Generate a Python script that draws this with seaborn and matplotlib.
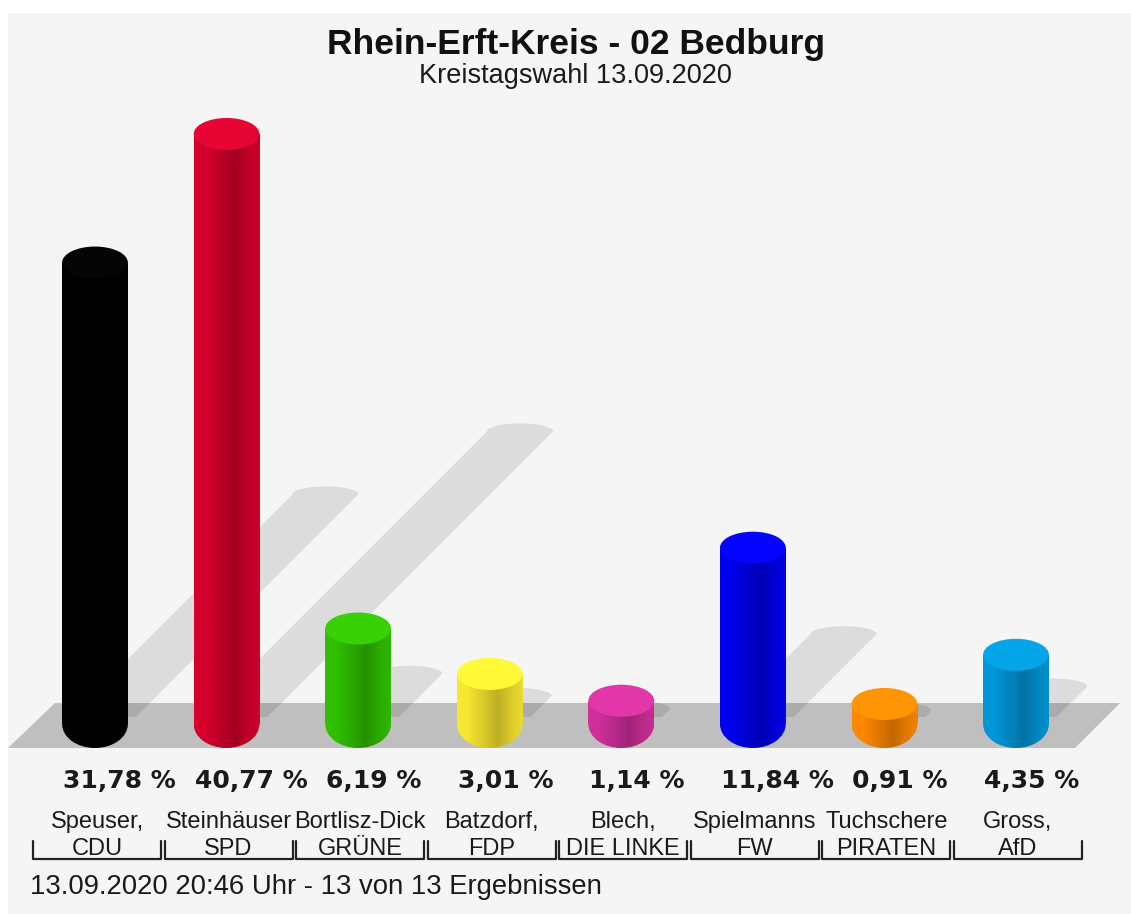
import matplotlib
matplotlib.use('Agg')
import matplotlib.pyplot as plt
from matplotlib.patches import Ellipse, Polygon, Rectangle
from matplotlib.colors import to_rgb
import numpy as np
import pandas as pd
import seaborn as sns


# Data
candidates = ['Speuser,', 'Steinhäuser', 'Bortlisz-Dick', 'Batzdorf,',
              'Blech,', 'Spielmanns', 'Tuchschere', 'Gross,']
parties = ['CDU', 'SPD', 'GRÜNE', 'FDP', 'DIE LINKE', 'FW', 'PIRATEN', 'AfD']
shares = [31.78, 40.77, 6.19, 3.01, 1.14, 11.84, 0.91, 4.35]
colors = ['#000000', '#d5002b', '#30c000', '#f8e630', '#d02f9b',
          '#0000ee', '#ff8800', '#0097d8']

title = 'Rhein-Erft-Kreis - 02 Bedburg'
subtitle = 'Kreistagswahl 13.09.2020'
footer = '13.09.2020 20:46 Uhr - 13 von 13 Ergebnissen'

# Layout (pixels of the 1131x914 picture)
W, H = 1131, 914
X0, DX = 95, 131.57   # first bar centre, bar spacing
Y0, DY = 717, 14.3    # zero level, pixels per percent


def xpx(p):
    return (p - X0) / DX


def ypx(p):
    return (Y0 - p) / DY


df = pd.DataFrame({'party': parties, 'share': shares})

sns.set_style('white')
plt.rcParams['font.family'] = ['Liberation Sans', 'DejaVu Sans']

fig = plt.figure(figsize=(W / 100, H / 100), dpi=100)
fig.patch.set_facecolor('white')

ax = fig.add_axes([0, 0, 1, 1])
ax.patch.set_alpha(0)

sns.barplot(data=df, x='party', y='share', hue='party', palette=colors,
            legend=False, width=0.5, saturation=1, ax=ax)
bars = sorted(list(ax.patches), key=lambda p: p.get_x())

# grey panel
ax.add_patch(Rectangle((xpx(8), ypx(H + 5)), xpx(W + 5) - xpx(8),
                       ypx(13) - ypx(H + 5), facecolor='#f5f5f5',
                       edgecolor='none', zorder=0))

# floor
floor = Polygon([(xpx(8), ypx(748)), (xpx(55), ypx(703)),
                 (xpx(1120), ypx(703)), (xpx(1075), ypx(748))],
                closed=True, facecolor='#bfbfbf', edgecolor='none', zorder=1)
ax.add_patch(floor)

bot_y = ypx(724)
bot_h = 48 / DY
top_h = 32 / DY
prof_x = [0, 0.15, 0.5, 0.62, 0.85, 1.0]
prof_f = [1.0, 1.0, 0.83, 0.76, 0.9, 0.95]
cols = np.linspace(0, 1, 100)
fac = np.interp(cols, prof_x, prof_f)

for bar in bars:
    x0 = bar.get_x()
    w = bar.get_width()
    h = bar.get_height()
    c = x0 + w / 2
    base = np.array(to_rgb(bar.get_facecolor()))
    bar.set_y(bot_y)
    bar.set_height(h - bot_y)
    bar.set_facecolor('none')
    bar.set_edgecolor('none')

    # shadow
    dy = 0.49 * h
    dx = dy * DY / DX
    s = 0.06
    t = np.linspace(0, np.pi, 30)
    cap = [(c + s + dx + w / 2 * np.cos(a), dy + 0.55 * np.sin(a)) for a in t]
    pts = [(c - w / 2 + s, 0), (c + w / 2 + s, 0)] + cap
    ax.add_patch(Polygon(pts, closed=True, facecolor='black', alpha=0.1,
                         edgecolor='none', zorder=2))

    # cylinder body with gradient
    grad = np.clip(base[None, :] * fac[:, None], 0, 1)[None, :, :]
    im = ax.imshow(grad, extent=[x0, x0 + w, bot_y - bot_h / 2, h],
                   aspect='auto', interpolation='bilinear', zorder=3)
    im.set_clip_path(bar)
    ell = Ellipse((c, bot_y), w, bot_h, facecolor='none', edgecolor='none')
    ax.add_patch(ell)
    im2 = ax.imshow(grad, extent=[x0, x0 + w, bot_y - bot_h / 2, h],
                    aspect='auto', interpolation='bilinear', zorder=3)
    im2.set_clip_path(ell)

    # top face
    topc = np.clip(base * 1.06 + 0.02, 0, 1)
    ax.add_patch(Ellipse((c, h), w, top_h, facecolor=topc,
                         edgecolor='none', zorder=4))

    i = round(c)
    ax.text(c - 32 / DX, ypx(781), f'{shares[i]:.2f}'.replace('.', ',') + ' %',
            ha='left', va='center', fontsize=18, fontweight='bold',
            family='DejaVu Sans', color='#1a1a1a')
    ax.text(c + 2 / DX, ypx(822), candidates[i], ha='center', va='center',
            fontsize=17, color='#1a1a1a')
    ax.text(c + 2 / DX, ypx(849), parties[i], ha='center', va='center',
            fontsize=17, color='#1a1a1a')
    l, r = c - 62 / DX, c + 66 / DX
    ax.plot([l, l, r, r], [ypx(841), ypx(859), ypx(859), ypx(841)],
            color='#222222', lw=1.6, zorder=5)

ax.text(xpx(576), ypx(45), title, ha='center', va='center', fontsize=25.5,
        fontweight='bold', color='#111111')
ax.text(xpx(575), ypx(76), subtitle, ha='center', va='center', fontsize=19.5,
        color='#1a1a1a')
ax.text(xpx(30), ypx(887), footer, ha='left', va='center', fontsize=19.8,
        color='#1a1a1a')

ax.set_xlim(xpx(0), xpx(W))
ax.set_ylim(ypx(H), ypx(0))
ax.axis('off')

fig.savefig('out.png', dpi=100, facecolor=fig.get_facecolor())
